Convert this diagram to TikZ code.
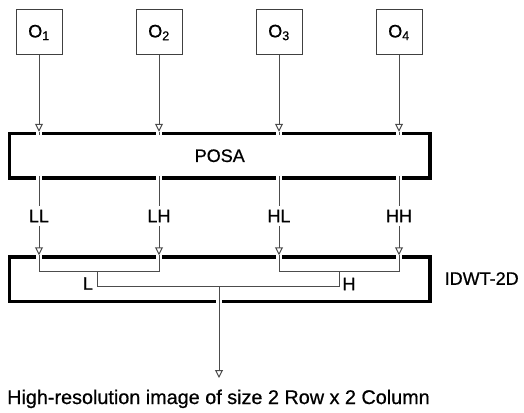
\documentclass[tikz,border=0pt]{standalone}
\usepackage{fontspec}
\setmainfont{Liberation Sans}[FakeBold=0.7]
\usetikzlibrary{arrows.meta}
\begin{document}
\begin{tikzpicture}[x=1pt,y=-1pt,
  obox/.style={draw=black!75, line width=1pt, minimum width=46pt, minimum height=45pt, inner sep=0pt, font=\fontsize{18}{18}\selectfont},
  bigbox/.style={draw=black, line width=3.5pt, minimum width=420.5pt, inner sep=0pt, font=\fontsize{18}{18}\selectfont},
  thin/.style={draw=black!70, line width=1pt},
  conn/.style={thin, -{Triangle[open,width=8pt,length=8pt]}},
  gapbox/.style={fill=white, draw=none, minimum width=6pt, minimum height=5pt, inner sep=0pt},
  lbl/.style={font=\fontsize{18}{18}\selectfont, inner sep=3.5pt}
]
\useasboundingbox (0,0) rectangle (524,412);

% source boxes
\node[obox] (o1) at (39,32.5)  {O\textsubscript{1}};
\node[obox] (o2) at (159,32.5) {O\textsubscript{2}};
\node[obox] (o3) at (279,32.5) {O\textsubscript{3}};
\node[obox] (o4) at (399,32.5) {O\textsubscript{4}};

% big boxes
\node[bigbox, minimum height=44.5pt] (posa) at (219.75,155.75) {POSA};
\node[bigbox, minimum height=44.7pt] (idwt) at (219.75,279.35) {};

% sub-band labels
\node[lbl] (ll) at (39,216)  {LL};
\node[lbl] (lh) at (159,216) {LH};
\node[lbl] (hl) at (279,216) {HL};
\node[lbl] (hh) at (399,216) {HH};

% gaps in thick borders
\foreach \n in {o1,o2,o3,o4}{
  \node[gapbox] at (\n.south |- 0,133.5) {};
  \node[gapbox] at (\n.south |- 0,178) {};
  \node[gapbox] at (\n.south |- 0,257) {};
}
\node[gapbox] at (219,301.7) {};

% inputs to POSA
\foreach \n in {o1,o2,o3,o4}{
  \draw[conn] (\n.south) -- (\n.south |- posa.north);
  \draw[thin] (\n.south |- posa.north) -- ++(0,3.5);
}

% POSA to IDWT
\foreach \n in {ll,lh,hl,hh}{
  \draw[thin] (\n |- 0,176.25) -- (\n.north);
  \draw[conn] (\n.south) -- (\n |- idwt.north);
}

% internal IDWT wiring
\coordinate (jL) at (97.7,271.7);
\coordinate (jH) at (339.7,271.7);
\coordinate (bL) at (97.7,286.7);
\coordinate (bH) at (339.7,286.7);
\coordinate (out) at (219,286.7);
\coordinate (tip) at (219,378);
\draw[thin] (ll |- idwt.north) |- (jL) -| (lh |- idwt.north);
\draw[thin] (hl |- idwt.north) |- (jH) -| (hh |- idwt.north);
\draw[thin] (jL) -- (bL) -- (bH) -- (jH);
\draw[conn] (out) -- (tip);

\node[lbl] (lL) at (88,283.5) {L};
\node[lbl] (lH) at (349,284) {H};
\node[lbl, anchor=west] (idwtl) at (441,278.5) {IDWT-2D};

\node[font=\fontsize{19.8}{20}\selectfont, anchor=base, inner sep=0pt] (res) at (218.5,404) {High-resolution image of size 2 Row x 2 Column};
\end{tikzpicture}
\end{document}
